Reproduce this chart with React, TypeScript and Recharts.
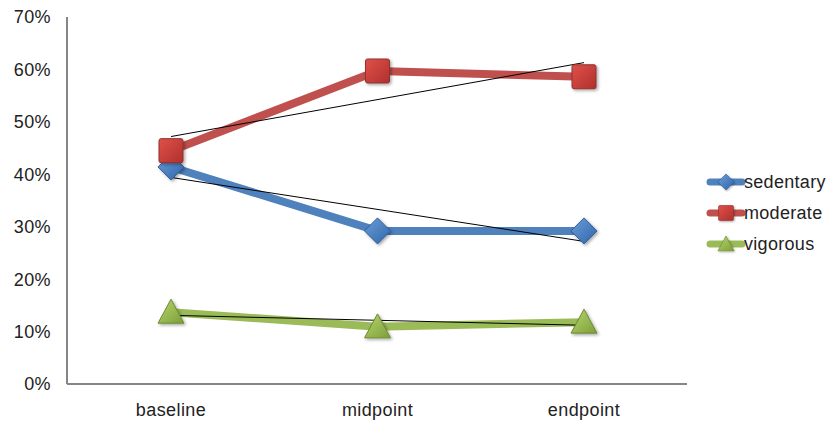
import React from 'react';
import { LineChart, Line, XAxis, YAxis, ReferenceLine } from 'recharts';

// values (percent)
const phases = ['baseline', 'midpoint', 'endpoint'];
const sedentary = [41.4, 29.2, 29.2];
const moderate = [44.5, 59.7, 58.6];
const vigorous = [13.7, 10.9, 11.8];

// linear trendline ends (baseline -> endpoint)
const sedentaryTrend = [39.4, 27.2];
const moderateTrend = [47.2, 61.3];
const vigorousTrend = [13.1, 11.2];

const yTicks = [0, 10, 20, 30, 40, 50, 60, 70];

const data = phases.map((p, i) => ({
  phase: p,
  sedentary: sedentary[i],
  moderate: moderate[i],
  vigorous: vigorous[i],
}));

const series = [
  { key: 'sedentary', color: '#4F81BD', shape: 'diamond', trend: sedentaryTrend },
  { key: 'moderate', color: '#C0504D', shape: 'square', trend: moderateTrend },
  { key: 'vigorous', color: '#9BBB59', shape: 'triangle', trend: vigorousTrend },
];

const font = '"Liberation Sans", Arial, sans-serif';
const tickStyle = { fontSize: 18, fill: '#222', fontFamily: font, letterSpacing: 0.4 };

const Marker = ({ cx, cy, shape }) => {
  if (cx == null || cy == null) return null;
  if (shape === 'diamond') {
    const r = 13;
    return (
      <path
        d={`M${cx},${cy - r} L${cx + r},${cy} L${cx},${cy + r} L${cx - r},${cy} Z`}
        fill="url(#gBlue)"
        stroke="#2F5F98"
        strokeWidth={1}
        filter="url(#shadow)"
      />
    );
  }
  if (shape === 'square') {
    const h = 12;
    return (
      <rect
        x={cx - h}
        y={cy - h}
        width={h * 2}
        height={h * 2}
        rx={2}
        fill="url(#gRed)"
        stroke="#8E3330"
        strokeWidth={1}
        filter="url(#shadow)"
      />
    );
  }
  const w = 13;
  return (
    <path
      d={`M${cx},${cy - 13} L${cx + w},${cy + 11} L${cx - w},${cy + 11} Z`}
      fill="url(#gGreen)"
      stroke="#6C8A30"
      strokeWidth={1}
      strokeLinejoin="round"
      filter="url(#shadow)"
    />
  );
};

const LegendBox = () => (
  <svg width={131} height={100} style={{ position: 'absolute', left: 704, top: 170 }}>
    {series.map((s, i) => {
      const y = 12 + i * 31;
      return (
        <g key={s.key}>
          <line x1={6} x2={38} y1={y} y2={y} stroke={s.color} strokeWidth={7} strokeLinecap="round" />
          <g transform={`translate(${22},${y}) scale(0.62) translate(${-22},${-y})`}>
            <Marker cx={22} cy={y} shape={s.shape} />
          </g>
          <text x={40} y={y + 6} fontSize={18} letterSpacing={0.3} fill="#222" fontFamily={font}>
            {s.key}
          </text>
        </g>
      );
    })}
  </svg>
);

export default function App() {
  return (
    <div style={{ position: 'absolute', left: 0, top: 0, width: 835, height: 421, background: '#fff' }}>
      <svg width={0} height={0} style={{ position: 'absolute' }}>
        <defs>
          <linearGradient id="gBlue" x1="0" y1="0" x2="1" y2="1">
            <stop offset="0%" stopColor="#6E9ED8" />
            <stop offset="100%" stopColor="#2E65AA" />
          </linearGradient>
          <linearGradient id="gRed" x1="0" y1="0" x2="1" y2="1">
            <stop offset="0%" stopColor="#E0504A" />
            <stop offset="100%" stopColor="#B0302C" />
          </linearGradient>
          <linearGradient id="gGreen" x1="0" y1="0" x2="1" y2="1">
            <stop offset="0%" stopColor="#B7D66E" />
            <stop offset="100%" stopColor="#7C9E3A" />
          </linearGradient>
          <filter id="shadow" x="-30%" y="-30%" width="170%" height="170%">
            <feDropShadow dx="1.5" dy="1.5" stdDeviation="1.5" floodColor="#000" floodOpacity="0.35" />
          </filter>
        </defs>
      </svg>
      <LineChart width={835} height={421} data={data} margin={{ top: 17, right: 148, bottom: 0, left: 0 }}>
        <XAxis
          dataKey="phase"
          axisLine={{ stroke: '#868686', strokeWidth: 2 }}
          tickLine={false}
          tickMargin={13}
          tick={tickStyle}
          padding={{ left: 104, right: 103 }}
          height={37}
        />
        <YAxis
          domain={[0, 70]}
          ticks={yTicks}
          width={67}
          axisLine={{ stroke: '#868686', strokeWidth: 2 }}
          tickLine={false}
          tickMargin={10}
          tickFormatter={(v) => `${v}%`}
          tick={tickStyle}
          interval={0}
        />
        {series.map((s) => (
          <Line
            key={s.key}
            dataKey={s.key}
            stroke={s.color}
            strokeWidth={8}
            strokeLinecap="round"
            strokeLinejoin="round"
            dot={(p) => <Marker key={`${s.key}-${p.index}`} cx={p.cx} cy={p.cy} shape={s.shape} />}
            activeDot={false}
            isAnimationActive={false}
          />
        ))}
        {series.map((s) => (
          <ReferenceLine
            key={`t-${s.key}`}
            segment={[
              { x: phases[0], y: s.trend[0] },
              { x: phases[phases.length - 1], y: s.trend[1] },
            ]}
            stroke="#000"
            strokeWidth={1}
          />
        ))}
      </LineChart>
      <LegendBox />
    </div>
  );
}
